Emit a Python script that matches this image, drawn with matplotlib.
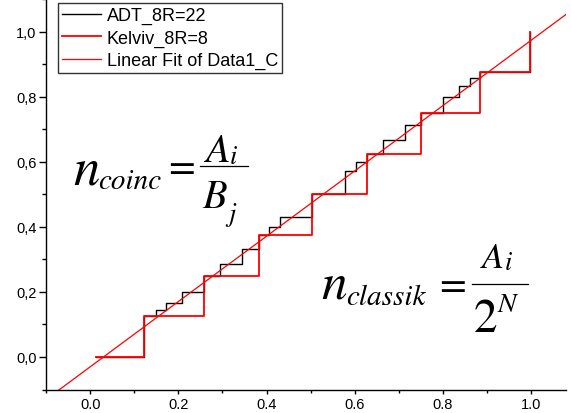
import numpy as np
import matplotlib
matplotlib.use('Agg')
import matplotlib.pyplot as plt
from matplotlib.lines import Line2D
from matplotlib.ticker import MultipleLocator, FuncFormatter

plt.rcParams['font.family'] = ['Liberation Sans', 'DejaVu Sans']

# ADT_8R=22 staircase (levels A_i/B_j)
adt_x = [0.013, 0.123, 0.149, 0.172, 0.209, 0.259, 0.294, 0.345, 0.382, 0.406, 0.431, 0.504,
         0.579, 0.603, 0.628, 0.664, 0.714, 0.750, 0.800, 0.836, 0.861, 0.885, 0.998]
adt_y = [0.0, 0.125, 0.143, 0.167, 0.200, 0.250, 0.286, 0.333, 0.375, 0.400, 0.429, 0.500,
         0.571, 0.600, 0.625, 0.667, 0.714, 0.750, 0.800, 0.833, 0.857, 0.875, 1.0]

# Kelviv_8R=8 staircase
kel_x = [0.013, 0.123, 0.259, 0.382, 0.504, 0.628, 0.750, 0.885, 0.998]
kel_y = [0.0, 0.125, 0.250, 0.375, 0.500, 0.625, 0.750, 0.875, 1.0]

# linear fit
fit_slope = 1.003
fit_icept = -0.03

labels = ['ADT_8R=22', 'Kelviv_8R=8', 'Linear Fit of Data1_C']

W, H = 571, 414
fig = plt.figure(figsize=(W / 100, H / 100), dpi=100)
ax = fig.add_axes([46.25 / W, (H - 390.5) / H, 519.8 / W, 390.3 / H])

xmin, xmax = -0.1, 1.08
ax.set_xlim(xmin, xmax)
ax.set_ylim(-0.1, 1.1)

ax.plot(adt_x, adt_y, drawstyle='steps-post', color='black', lw=1.0, label=labels[0])
ax.plot(kel_x, kel_y, drawstyle='steps-post', color='#ff0000', lw=1.3, label=labels[1])
fx = np.array([xmin, xmax])
ax.plot(fx, fit_slope * fx + fit_icept, color='#ff0000', lw=0.9, label=labels[2])

for s in ['top', 'right']:
    ax.spines[s].set_visible(False)
for s in ['left', 'bottom']:
    ax.spines[s].set_linewidth(1.0)

ax.xaxis.set_major_locator(MultipleLocator(0.2))
ax.xaxis.set_minor_locator(MultipleLocator(0.1))
ax.yaxis.set_major_locator(MultipleLocator(0.2))
ax.yaxis.set_minor_locator(MultipleLocator(0.1))
ax.xaxis.set_major_formatter(FuncFormatter(lambda v, p: '%.1f' % v))
ax.yaxis.set_major_formatter(FuncFormatter(lambda v, p: ('%.1f' % v).replace('.', ',')))
ax.tick_params(axis='y', which='major', direction='out', length=5, width=1.0, labelsize=10.5, pad=2)
ax.tick_params(axis='y', which='minor', direction='out', length=3, width=1.0)
ax.tick_params(axis='x', which='major', direction='out', length=3.2, width=1.0, labelsize=10.5, pad=2)
ax.tick_params(axis='x', which='minor', direction='out', length=2, width=1.0)

leg = ax.legend(loc='lower left', bbox_to_anchor=(58 / W, (H - 74) / H),
                bbox_transform=fig.transFigure, fontsize=13, frameon=True, fancybox=False,
                handlelength=2.2, handletextpad=0.3, borderpad=0.2, labelspacing=0.3,
                borderaxespad=0)
leg.get_frame().set_edgecolor('black')
leg.get_frame().set_linewidth(1.0)


# equations, built from pieces placed in pixel positions (x from left, baseline from top)
def put(s, x, y, size, style='italic'):
    fig.text(x / W, 1 - y / H, s, fontsize=size, family='STIXGeneral', style=style,
             ha='left', va='baseline')


def bar(x0, x1, y):
    fig.add_artist(Line2D([x0 / W, x1 / W], [1 - y / H, 1 - y / H], color='black', lw=0.9))


put('n', 73, 185, 38)
put('coinc', 98, 189, 21)
put('=', 168, 178.5, 28, 'normal')
bar(200, 248, 167)
put('A', 205, 161.7, 29)
put('i', 230, 164, 19)
put('B', 202, 208.3, 29)
put('j', 228, 221, 19)

put('n', 321, 298.3, 37)
put('classik', 346, 305.5, 21)
put('=', 439, 297.5, 28, 'normal')
bar(472, 528, 285)
put('A', 482, 268.3, 26)
put('i', 505, 270.5, 19)
put('2', 474, 331.7, 34, 'normal')
put('N', 497.5, 311.7, 20)

fig.savefig('out.png', dpi=100)
